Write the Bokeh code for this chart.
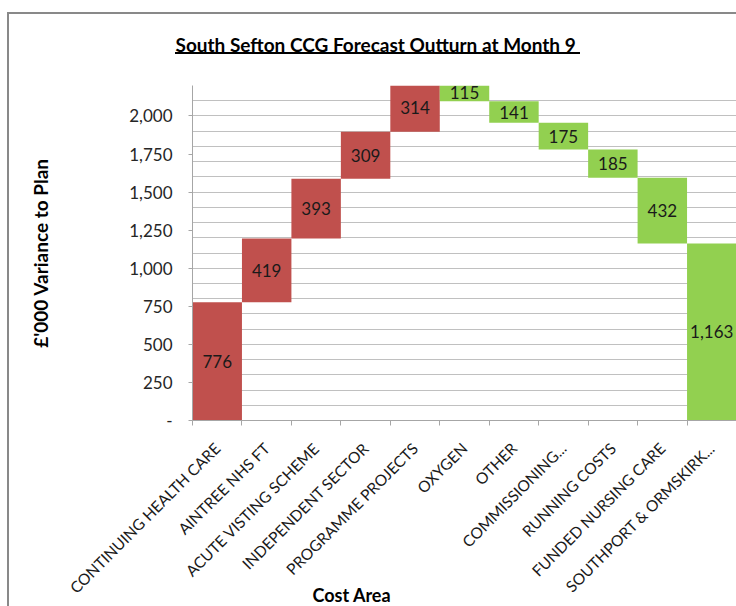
import math
from bokeh.plotting import figure
from bokeh.models import (Range1d, FixedTicker, NumeralTickFormatter, Title,
                          ColumnDataSource)
from bokeh.core.properties import value
from bokeh.embed import file_html
from bokeh.resources import INLINE

# ---- data ----
categories = ["CONTINUING HEALTH CARE", "AINTREE NHS FT", "ACUTE VISTING SCHEME",
              "INDEPENDENT SECTOR", "PROGRAMME PROJECTS", "OXYGEN", "OTHER",
              "COMMISSIONING...", "RUNNING COSTS", "FUNDED NURSING CARE",
              "SOUTHPORT & ORMSKIRK..."]
overspends = [776, 419, 393, 309, 314]          # red, stacking up
underspends = [115, 141, 175, 185, 432, 1163]   # green, stepping down
y_ticks = [0, 250, 500, 750, 1000, 1250, 1500, 1750, 2000]

RED = "#C0504D"
GREEN = "#92D050"
FONT = "Lato"

# waterfall geometry from the values
changes = overspends + [-v for v in underspends]
bottoms, tops, colors, texts, xs = [], [], [], [], []
running = 0
for i, c in enumerate(changes):
    start = running
    running += c
    bottoms.append(min(start, running))
    tops.append(max(start, running))
    colors.append(RED if c > 0 else GREEN)
    texts.append(f"{abs(c):,}")
    xs.append(i + 0.5)
mids = [(b + t) / 2 for b, t in zip(bottoms, tops)]
src = ColumnDataSource(dict(x=xs, bottom=bottoms, top=tops, color=colors,
                            text=texts, mid=mids))

# chart-area frame and title underline drawn as CSS background lines
frame_css = ("linear-gradient(#898989,#898989) 8px 12px / 728px 2px no-repeat, "
             "linear-gradient(#898989,#898989) 7px 12px / 2px 594px no-repeat, "
             "linear-gradient(#000,#000) 175px 52px / 405px 2px no-repeat, "
             "white")

p = figure(width=736, height=606, output_backend="svg", toolbar_location=None,
           x_range=Range1d(0, len(categories)), y_range=Range1d(0, 2200),
           min_border_left=192, min_border_top=85, min_border_bottom=185,
           min_border_right=0, styles={"background": frame_css})
p.outline_line_color = None
p.background_fill_color = "white"
p.border_fill_color = None

p.vbar(x="x", width=1, bottom="bottom", top="top", fill_color="color",
       line_color=None, source=src)
p.text(x="x", y="mid", text="text", source=src, text_align="center",
       text_baseline="middle", text_font=value(FONT), text_font_size="17px",
       text_color="#1a1a1a")

# grid
p.xgrid.visible = False
p.ygrid.ticker = FixedTicker(ticks=list(range(0, 2201, 100)))
p.ygrid.grid_line_color = "#C0C0C0"
p.ygrid.grid_line_width = 1

# y axis
ya = p.yaxis[0]
ya.ticker = FixedTicker(ticks=y_ticks)
ya.formatter = NumeralTickFormatter(format="0,0")
ya.major_label_overrides = {0: "-"}
ya.major_tick_out = 4
ya.major_tick_in = 0
ya.minor_tick_out = 0
ya.minor_tick_in = 0
ya.major_label_standoff = 16
ya.axis_line_color = "#A6A6A6"
ya.major_tick_line_color = "#A6A6A6"
ya.major_label_text_font = FONT
ya.major_label_text_font_size = "17px"
ya.major_label_text_color = "#262626"
ya.axis_label = "£'000 Variance to Plan"
ya.axis_label_text_font = FONT
ya.axis_label_text_font_style = "bold"
ya.axis_label_text_font_size = "19px"
ya.axis_label_text_color = "#000000"
ya.axis_label_standoff = 74

# x axis
xa = p.xaxis[0]
xa.ticker = FixedTicker(ticks=xs, minor_ticks=list(range(len(categories) + 1)))
xa.major_label_overrides = {x: c for x, c in zip(xs, categories)}
xa.major_label_orientation = math.pi / 4
xa.major_tick_out = 0
xa.major_tick_in = 0
xa.minor_tick_out = 5
xa.minor_tick_in = 0
xa.minor_tick_line_color = "#A6A6A6"
xa.axis_line_color = "#A6A6A6"
xa.major_label_standoff = 20
xa.major_label_text_font = FONT
xa.major_label_text_font_size = "15.5px"
xa.major_label_text_color = "#1a1a1a"

# chart title
p.title.text = "South Sefton CCG Forecast Outturn at Month 9"
p.title.align = "left"
p.title.offset = -17
p.title.standoff = 60
p.title.text_font = FONT
p.title.text_font_style = "bold"
p.title.text_font_size = "19px"
p.title.text_color = "#000000"

# x axis title
p.add_layout(Title(text="Cost Area", align="left", offset=120, standoff=-46,
                   vertical_align="top",
                   text_font=FONT, text_font_style="bold", text_font_size="18px",
                   text_color="#000000"), "below")

open("out.html", "w").write(file_html(p, INLINE))
